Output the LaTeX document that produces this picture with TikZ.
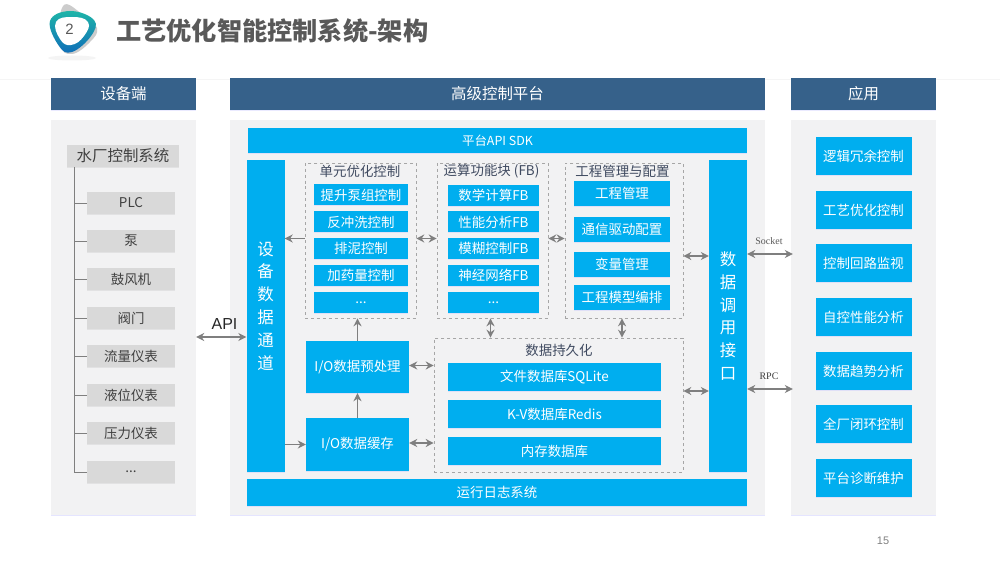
\documentclass[tikz,border=0pt]{standalone}
\usepackage{fontspec}
\setmainfont{Noto Sans CJK SC}
\newfontfamily\serifsmall{Liberation Serif}
\newfontfamily\latinsans{Liberation Sans}
\usepackage{tikz}
\usetikzlibrary{shapes,arrows,arrows.meta,shadows}
\definecolor{headblue}{HTML}{36618A}
\definecolor{boxblue}{HTML}{00AEEF}
\definecolor{panelgrey}{HTML}{F2F2F3}
\definecolor{itemgrey}{HTML}{D9D9D9}
\definecolor{arrowgrey}{HTML}{7F7F7F}
\definecolor{groupink}{HTML}{3F4A60}
\definecolor{badgeteal}{HTML}{1FB5A8}
\definecolor{badgeblue}{HTML}{0F6DB8}
\newcommand{\fs}[1]{\fontsize{#1}{#1}\selectfont}

\begin{document}
\begin{tikzpicture}[x=1bp,y=-1bp]
	\useasboundingbox (0,0) rectangle (1000,562);
	\fill[white] (0,0) rectangle (1000,562);
	\draw[black!4] (0,79) -- (1000,79);
	% badge
	\fill[black!6,opacity=.7] (72,58) ellipse (24 and 2.5);
	\fill[black!20] plot[smooth cycle,tension=.7] coordinates {(63,6) (82,14) (97,28) (90,42) (72,54) (60,44)};
	\shade[top color=badgeteal,bottom color=badgeblue] plot[smooth cycle,tension=.7] coordinates {(50,21) (70,11) (94,20) (91,36) (72,52) (59,46)};
	\fill[white] plot[smooth cycle,tension=.8] coordinates {(56,22) (72,17) (88,22) (84,36) (71,45) (60,39)};
	\begin{scope}
		[
			styleHead/.style={fill=headblue, text=white, minimum height=32bp, inner sep=0pt, font=\fs{15.5}, drop shadow={shadow xshift=0pt,shadow yshift=-1pt,fill=blue!20,opacity=.4}},
			stylePanel/.style={fill=panelgrey, minimum height=395bp, inner sep=0pt, drop shadow={shadow xshift=0pt,shadow yshift=-1.2pt,fill=blue!25,opacity=.4}},
			styleGrey/.style={fill=itemgrey, minimum width=88bp, minimum height=22bp, inner sep=0pt, text=black!75, font=\fs{13.5}, drop shadow={shadow xshift=0pt,shadow yshift=-1pt,fill=black!25,opacity=.3}},
			styleBlue/.style={fill=boxblue, text=white, inner sep=0pt, font=\fs{13.5}, drop shadow={shadow xshift=0pt,shadow yshift=-.8pt,fill=blue!25,opacity=.35}},
			styleApp/.style={styleBlue, minimum width=96bp, minimum height=38bp},
			styleUnit/.style={styleBlue, minimum width=94bp, minimum height=21bp},
			styleFb/.style={styleBlue, minimum width=91bp, minimum height=21bp},
			styleConf/.style={styleBlue, minimum width=96bp, minimum height=25bp},
			styleBase/.style={styleBlue, minimum width=213bp, minimum height=28bp},
			styleGroup/.style={draw=black!35, dashed, line width=.6bp, inner sep=0pt},
			styleTitle/.style={text=groupink, inner sep=0pt, font=\fs{13.5}},
			styleLane/.style={styleBlue, minimum width=38bp, minimum height=312bp, font=\fs{16.5}, align=center},
		]
		\node(title)[text=black!65, inner sep=0pt, anchor=west, font=\fs{25.3}\bfseries] at (116,31) {工艺优化智能控制系统-架构};
		\node(badgeno)[text=black!65, inner sep=0pt, font=\latinsans\fs{15}] at (69.5,29) {2};

		\node(headDev)[styleHead, minimum width=145bp] at (123.5,94) {设备端};
		\node(headPlat)[styleHead, minimum width=535bp] at (497.5,94) {高级控制平台};
		\node(headApp)[styleHead, minimum width=145bp] at (863.5,94) {应用};

		\node(panelDev)[stylePanel, minimum width=145bp] at (123.5,317.5) {};
		\node(panelPlat)[stylePanel, minimum width=535bp] at (497.5,317.5) {};
		\node(panelApp)[stylePanel, minimum width=145bp] at (863.5,317.5) {};

		% device side
		\node(plant)[styleGrey, minimum width=112bp, font=\fs{15.5}] at (123,156) {水厂控制系统};
		\node(plc)[styleGrey] at (131,203) {PLC};
		\node(pump)[styleGrey] at (131,241) {泵};
		\node(blower)[styleGrey] at (131,279) {鼓风机};
		\node(valve)[styleGrey] at (131,318) {阀门};
		\node(flow)[styleGrey] at (131,356) {流量仪表};
		\node(level)[styleGrey] at (131,395) {液位仪表};
		\node(press)[styleGrey] at (131,433) {压力仪表};
		\node(devmore)[styleGrey] at (131,472) {...};
		\coordinate(trunk) at (74,167);

		% platform
		\node(sdk)[styleBlue, minimum width=499bp, minimum height=25bp, font=\fs{12.5}] at (497.5,140.5) {平台API SDK};
		\node(log)[styleBlue, minimum width=500bp, minimum height=27bp] at (497,492.5) {运行日志系统};
		\node(lane)[styleLane, label={[text=white, yshift=10bp, inner sep=0pt, align=center, font=\fs{16.5}]center:{设\\[6.4bp]备\\[6.4bp]数\\[6.4bp]据\\[6.4bp]通\\[6.4bp]道}}] at (265.5,316) {};
		\node(port)[styleLane] at (728,316) {数\\[6.4bp]据\\[6.4bp]调\\[6.4bp]用\\[6.4bp]接\\[6.4bp]口};

		\node(unit)[styleGroup, minimum width=111bp, minimum height=155bp] at (360.5,240.5) {};
		\node(unitT)[styleTitle] at (360,171) {单元优化控制};
		\node(u1)[styleUnit] at (361,195) {提升泵组控制};
		\node(u2)[styleUnit] at (361,222) {反冲洗控制};
		\node(u3)[styleUnit] at (361,248.5) {排泥控制};
		\node(u4)[styleUnit] at (361,275.5) {加药量控制};
		\node(u5)[styleUnit] at (361,302.5) {...};

		\node(fb)[styleGroup, minimum width=111bp, minimum height=155bp] at (492.5,240.5) {};
		\node(fbT)[styleTitle] at (491.5,171) {运算功能块 (FB)};
		\node(f1)[styleFb] at (493.5,195.5) {数学计算FB};
		\node(f2)[styleFb] at (493.5,222) {性能分析FB};
		\node(f3)[styleFb] at (493.5,248.5) {模糊控制FB};
		\node(f4)[styleFb] at (493.5,275.5) {神经网络FB};
		\node(f5)[styleFb] at (493.5,302.5) {...};

		\node(conf)[styleGroup, minimum width=118bp, minimum height=155bp] at (624,240.5) {};
		\node(confT)[styleTitle] at (622.5,171) {工程管理与配置};
		\node(c1)[styleConf] at (622,193.5) {工程管理};
		\node(c2)[styleConf] at (622,229.5) {通信驱动配置};
		\node(c3)[styleConf] at (622,264.5) {变量管理};
		\node(c4)[styleConf] at (622,297.5) {工程模型编排};

		\node(pre)[styleBlue, minimum width=103bp, minimum height=52bp] at (357.5,367) {I/O数据预处理};
		\node(cache)[styleBlue, minimum width=103bp, minimum height=53bp] at (357.5,444.5) {I/O数据缓存};

		\node(store)[styleGroup, minimum width=249bp, minimum height=134bp] at (558.5,405) {};
		\node(storeT)[styleTitle] at (559,350.5) {数据持久化};
		\node(db1)[styleBase] at (554.5,377) {文件数据库SQLite};
		\node(db2)[styleBase] at (554.5,414) {K-V数据库Redis};
		\node(db3)[styleBase] at (554.5,451) {内存数据库};

		% applications
		\node(a1)[styleApp] at (863.5,156) {逻辑冗余控制};
		\node(a2)[styleApp] at (863.5,210) {工艺优化控制};
		\node(a3)[styleApp] at (863.5,263) {控制回路监视};
		\node(a4)[styleApp] at (863.5,317) {自控性能分析};
		\node(a5)[styleApp] at (863.5,371) {数据趋势分析};
		\node(a6)[styleApp] at (863.5,424) {全厂闭环控制};
		\node(a7)[styleApp] at (863.5,478) {平台诊断维护};

		\node(apiT)[inner sep=0pt, text=black!85, font=\latinsans\fs{16}] at (224.5,324) {API};
		\node(socketT)[inner sep=0pt, text=black!65, font=\serifsmall\fs{10}] at (769,241) {Socket};
		\node(rpcT)[inner sep=0pt, text=black!75, font=\serifsmall\fs{10}] at (769,376) {RPC};
		\node(pageno)[inner sep=0pt, text=black!50, font=\latinsans\fs{11}] at (883,541) {15};
	\end{scope}
	\begin{scope}
		[ flowto/.style = {-{Stealth[length=8bp,width=8bp]}},
		both/.style = {{Stealth[length=8bp,width=8bp]}-{Stealth[length=8bp,width=8bp]}},
		line width=1.3bp, arrowgrey]
		\draw[line width=.9bp] (trunk) -- (trunk |- devmore.west) -- (devmore.west);
		\path[draw, line width=.9bp]
		(trunk |- plc.west) -- (plc.west)
		(trunk |- pump.west) -- (pump.west)
		(trunk |- blower.west) -- (blower.west)
		(trunk |- valve.west) -- (valve.west)
		(trunk |- flow.west) -- (flow.west)
		(trunk |- level.west) -- (level.west)
		(trunk |- press.west) -- (press.west);

		\path
		([yshift=-21bp]lane.west) edge[both] ([yshift=-21bp]lane.west -| panelDev.east)
		([yshift=2bp]unit.west) edge[flowto] ([yshift=2bp]unit.west -| lane.east)
		([yshift=2bp]unit.east) edge[both] ([yshift=2bp]fb.west)
		([yshift=2bp]fb.east) edge[both] ([yshift=2bp]conf.west)
		([yshift=-15.5bp]conf.east) edge[both] ([yshift=-15.5bp]conf.east -| port.west)
		([yshift=-75bp]port.west) edge[both] ([yshift=-75bp]port.west -| store.east)
		(pre.north) edge[flowto] (pre.north |- unit.south)
		(cache.north) edge[flowto] (pre.south)
		(lane.east |- cache.west) edge[flowto] (cache.west)
		([yshift=1.5bp]pre.east) edge[both] ([yshift=1.5bp]pre.east -| store.west)
		([yshift=1.5bp]cache.east) edge[both] ([yshift=1.5bp]cache.east -| store.west)
		([xshift=-2bp]fb.south) edge[both] ([xshift=-2bp]fb.south |- store.north)
		(c4.south |- conf.south) edge[both] (c4.south |- store.north)
		([yshift=62bp]port.east) edge[both] ([yshift=62bp,xshift=2bp]port.east -| panelApp.west)
		([yshift=-73bp]port.east) edge[both] ([yshift=-73bp,xshift=2bp]port.east -| panelApp.west);
	\end{scope}
\end{tikzpicture}
\end{document}
